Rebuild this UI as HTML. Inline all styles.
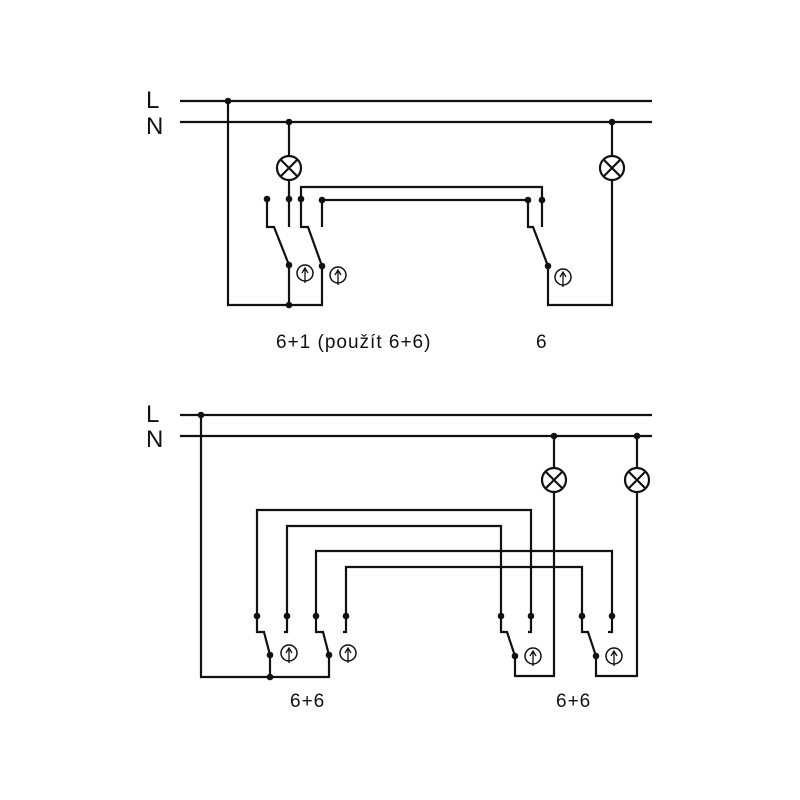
<!DOCTYPE html>
<html><head><meta charset="utf-8"><style>
html,body{margin:0;padding:0;background:#fff}
svg{display:block}
text{font-family:"Liberation Sans",sans-serif;fill:#111}
</style></head><body>
<svg width="800" height="800" viewBox="0 0 800 800">
<defs>
<g id="sym"><circle cx="0" cy="0" r="8" fill="none" stroke="#111" stroke-width="1.5"/>
<path d="M0 10 V-5 M-3 0 L0 -5 L3 0" fill="none" stroke="#111" stroke-width="1.3"/></g>
<g id="lamp"><circle cx="0" cy="0" r="12" fill="#fff" stroke="#111" stroke-width="2.2"/>
<path d="M-8.5 -8.5 L8.5 8.5 M8.5 -8.5 L-8.5 8.5" stroke="#111" stroke-width="2.2"/></g>
</defs>
<g fill="none" stroke="#111" stroke-width="2.2" stroke-linejoin="miter">
<path d="M180 101 H652 M180 122 H652"/>
<path d="M228 101 V305 H322 V266"/>
<path d="M289 122 V227 M289 265 V305"/>
<path d="M612 122 V305 H548 V266"/>
<path d="M267 199 V227 H274 L289 265"/>
<path d="M301 199 V187 H542 V227"/>
<path d="M301 199 V227 H308 L322 266"/>
<path d="M322 227 V200 H528 V227 H533 L548 266"/>
<path d="M180 415 H652 M180 436 H652"/>
<path d="M201 415 V677 H329 V655"/>
<path d="M270 655 V677"/>
<path d="M257 616 V510 H531 V632 H528"/>
<path d="M287 616 V526 H501 V632 H507 L515 656 V676 H554 V436"/>
<path d="M316 616 V551 H612 V632 H608"/>
<path d="M346 616 V567 H582 V632 H588 L596 656 V676 H637 V436"/>
<path d="M257 616 V632 H264 L270 655"/>
<path d="M287 616 V632 H284"/>
<path d="M316 616 V632 H323 L329 655"/>
<path d="M346 616 V632 H343"/>
</g>
<g fill="#111">
<circle cx="228" cy="101" r="3.3"/><circle cx="289" cy="122" r="3.3"/><circle cx="612" cy="122" r="3.3"/>
<circle cx="267" cy="199" r="3.3"/><circle cx="289" cy="199" r="3.3"/><circle cx="301" cy="199" r="3.3"/><circle cx="322" cy="200" r="3.3"/>
<circle cx="528" cy="200" r="3.3"/><circle cx="542" cy="200" r="3.3"/>
<circle cx="289" cy="265" r="3.3"/><circle cx="322" cy="266" r="3.3"/><circle cx="548" cy="266" r="3.3"/><circle cx="289" cy="305" r="3.3"/>
<circle cx="201" cy="415" r="3.3"/><circle cx="554" cy="436" r="3.3"/><circle cx="637" cy="436" r="3.3"/>
<circle cx="257" cy="616" r="3.3"/><circle cx="287" cy="616" r="3.3"/><circle cx="316" cy="616" r="3.3"/><circle cx="346" cy="616" r="3.3"/>
<circle cx="501" cy="616" r="3.3"/><circle cx="531" cy="616" r="3.3"/><circle cx="582" cy="616" r="3.3"/><circle cx="612" cy="616" r="3.3"/>
<circle cx="270" cy="655" r="3.3"/><circle cx="329" cy="655" r="3.3"/><circle cx="515" cy="656" r="3.3"/><circle cx="596" cy="656" r="3.3"/>
<circle cx="270" cy="677" r="3.3"/>
</g>
<use href="#lamp" x="289" y="168"/><use href="#lamp" x="612" y="168"/>
<use href="#lamp" x="554" y="480"/><use href="#lamp" x="637" y="480"/>
<use href="#sym" x="305" y="273"/><use href="#sym" x="338" y="275"/><use href="#sym" x="563" y="277"/>
<use href="#sym" x="289" y="653"/><use href="#sym" x="348" y="653"/><use href="#sym" x="533" y="656"/><use href="#sym" x="614" y="656"/>
<text x="146" y="108" font-size="24">L</text>
<text x="146" y="134" font-size="24">N</text>
<text x="146" y="422" font-size="24">L</text>
<text x="146" y="447" font-size="24">N</text>
<text x="276" y="348" font-size="19" letter-spacing="1">6+1 (použít 6+6)</text>
<text x="536" y="348" font-size="19">6</text>
<text x="290" y="707" font-size="19" letter-spacing="1">6+6</text>
<text x="556" y="707" font-size="19" letter-spacing="1">6+6</text>
</svg>
</body></html>
